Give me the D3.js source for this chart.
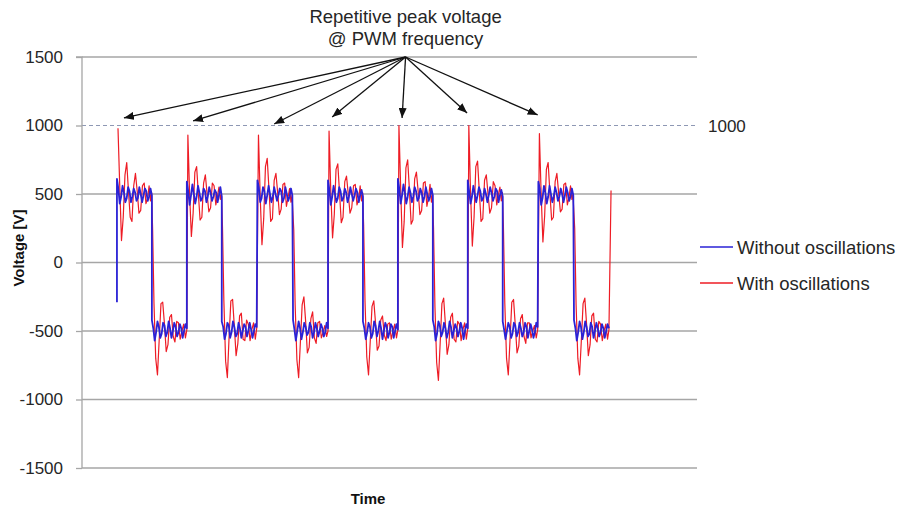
<!DOCTYPE html>
<html>
<head>
<meta charset="utf-8">
<script src="https://cdn.jsdelivr.net/npm/d3@7"></script>
<style>
  html, body { margin: 0; padding: 0; background: #fff; }
  svg { display: block; font-family: "Liberation Sans", Arial, sans-serif; }
</style>
</head>
<body>
<svg id="chart" width="901" height="506"></svg>
<script>
// ---------------- DATA ----------------
const yTicks = [-1500, -1000, -500, 0, 500, 1000, 1500];
const refLevel = 1000;
const seriesNames = ["Without oscillations", "With oscillations"];
const titleLines = ["Repetitive peak voltage", "@ PWM frequency"];

// switching edges (time units, period = 100)
const riseTimes = [50, 150, 251, 352, 452, 552, 653];
const fallTimes = [100, 200, 302, 402, 502, 602, 704];

// "With oscillations" (red): offsets after each edge and values per cycle
const redHighT = [1.5, 4, 6.5, 9, 11.5, 14, 16.5, 19, 21.5, 24, 26.5, 29, 31.5, 34, 36.5, 39, 41.5, 44, 46, 48, 49.5];
const redHigh = [
  [980, 560, 160, 330, 640, 730, 520, 330, 300, 560, 650, 520, 360, 380, 560, 580, 430, 470, 560, 450, 510],
  [930, 500, 190, 360, 660, 700, 500, 310, 330, 580, 640, 500, 370, 400, 580, 560, 420, 490, 550, 460, 500],
  [930, 480, 130, 320, 700, 760, 540, 300, 320, 600, 650, 510, 350, 390, 570, 580, 410, 480, 540, 440, 490],
  [960, 520, 180, 350, 680, 720, 510, 290, 330, 590, 630, 500, 360, 400, 560, 570, 420, 470, 560, 450, 510],
  [1000, 540, 110, 300, 690, 750, 530, 280, 310, 610, 660, 520, 350, 380, 580, 590, 410, 480, 570, 440, 500],
  [1000, 510, 120, 330, 700, 740, 520, 300, 320, 600, 640, 500, 360, 400, 590, 560, 420, 500, 550, 450, 510],
  [940, 500, 150, 340, 680, 730, 510, 310, 330, 590, 650, 510, 370, 390, 570, 580, 420, 480, 560, 460, 500]
];
const redLowT = [1, 3, 5.5, 8, 10.5, 13, 15.5, 18, 20.5, 23, 25.5, 28, 30.5, 33, 35.5, 38, 40.5, 43, 45.5, 48, 50];
const redLow = [
  [250, -300, -700, -820, -560, -300, -290, -450, -650, -600, -400, -380, -540, -580, -430, -440, -560, -500, -450, -550, -490],
  [260, -280, -720, -840, -540, -280, -270, -470, -680, -590, -390, -370, -560, -570, -420, -450, -570, -490, -440, -560, -480],
  [240, -310, -710, -840, -580, -310, -250, -430, -660, -620, -410, -360, -550, -590, -440, -430, -550, -510, -460, -540, -500],
  [270, -290, -690, -820, -570, -320, -280, -440, -640, -610, -420, -390, -530, -570, -450, -440, -560, -500, -450, -550, -490],
  [250, -320, -730, -860, -590, -300, -260, -450, -670, -600, -400, -370, -560, -580, -430, -450, -570, -490, -440, -560, -480],
  [260, -300, -700, -820, -560, -290, -270, -460, -660, -610, -410, -380, -540, -590, -440, -440, -550, -500, -460, -550, -490],
  [250, -310, -700, -820, -570, -300, -260, -450, -680, -600, -390, -370, -560, -580, -430, -450, -570, -500, -450, -560, -490]
];
const redEnd = [757, 525];

// "Without oscillations" (blue)
const blueStart = [50, -290];
const blueT = [0, 2, 4, 6, 8, 10, 12, 14, 16, 18, 20, 22, 24, 26, 28, 30, 32, 34, 36, 38, 40, 42, 44, 46, 48, 50];
const blueHigh = [
  [610, 540, 430, 480, 560, 510, 440, 470, 550, 520, 440, 480, 540, 510, 450, 470, 550, 500, 440, 490, 540, 520, 450, 480, 540, 490],
  [590, 520, 420, 490, 570, 500, 430, 480, 560, 510, 450, 470, 540, 520, 440, 480, 550, 510, 450, 480, 530, 510, 440, 490, 550, 480],
  [600, 550, 440, 470, 550, 520, 430, 490, 560, 500, 440, 480, 550, 500, 450, 490, 540, 520, 440, 470, 550, 500, 450, 480, 540, 490],
  [600, 530, 420, 480, 560, 500, 440, 470, 550, 520, 450, 470, 540, 510, 440, 480, 550, 500, 450, 490, 540, 510, 440, 490, 530, 480],
  [610, 540, 430, 490, 570, 510, 430, 480, 550, 510, 440, 480, 550, 520, 450, 470, 540, 510, 440, 480, 550, 500, 450, 480, 540, 490],
  [600, 520, 430, 480, 560, 500, 440, 490, 550, 520, 450, 470, 540, 500, 440, 490, 550, 510, 450, 480, 540, 520, 440, 490, 530, 480],
  [590, 540, 420, 470, 560, 510, 430, 480, 560, 500, 440, 480, 550, 510, 450, 480, 540, 500, 440, 490, 550, 510, 450, 480, 540, 490]
];
const blueLow = [
  [-420, -480, -570, -510, -430, -470, -550, -520, -440, -460, -540, -510, -430, -480, -550, -500, -440, -470, -540, -510, -450, -480, -550, -500, -450, -480],
  [-430, -470, -560, -520, -440, -460, -550, -510, -430, -470, -540, -520, -440, -480, -550, -500, -450, -470, -540, -500, -440, -490, -550, -500, -450, -470],
  [-420, -490, -570, -500, -430, -480, -560, -510, -440, -470, -530, -510, -440, -470, -550, -510, -440, -480, -540, -500, -450, -480, -540, -510, -440, -480],
  [-430, -480, -560, -510, -440, -470, -550, -520, -430, -460, -540, -500, -430, -480, -560, -500, -440, -470, -550, -510, -450, -470, -550, -500, -450, -490],
  [-420, -470, -570, -520, -430, -460, -540, -510, -440, -480, -550, -510, -430, -470, -550, -500, -450, -480, -540, -500, -440, -480, -560, -500, -450, -480],
  [-430, -490, -560, -500, -440, -470, -550, -520, -440, -460, -540, -510, -440, -480, -540, -510, -440, -470, -550, -500, -450, -490, -550, -510, -440, -470],
  [-420, -480, -570, -510, -430, -470, -560, -510, -430, -470, -540, -520, -440, -470, -550, -500, -440, -480, -540, -510, -450, -480, -550, -500, -450, -480]
];

// annotation arrows (data coordinates)
const arrowOrigin = [463, 1500];
const arrowTipT = [60, 159, 275, 358, 458, 551, 652];
const arrowTipV = [1055, 1033, 1011, 1062, 1055, 1091, 1077];

// ---------------- BUILD SERIES ----------------
const red = [];
const blue = [blueStart];
for (let i = 0; i < riseTimes.length; i++) {
  redHighT.forEach((o, j) => red.push([riseTimes[i] + o, redHigh[i][j]]));
  redLowT.forEach((o, j) => red.push([fallTimes[i] + o, redLow[i][j]]));
  blueT.forEach((o, j) => blue.push([riseTimes[i] + o, blueHigh[i][j]]));
  blueT.forEach((o, j) => blue.push([fallTimes[i] + o, blueLow[i][j]]));
}
red.push(redEnd);

// ---------------- LAYOUT ----------------
const svg = d3.select("#chart");
const plot = { left: 82, right: 697, top: 57, bottom: 468 };
const x = d3.scaleLinear().domain([0, 880]).range([plot.left, plot.right]);
const y = d3.scaleLinear().domain([-1500, 1500]).range([plot.bottom, plot.top]);

const gridColor = "#a6a6a6";
const textColor = "#262626";

// gridlines
svg.append("g").selectAll("line")
  .data(yTicks.filter(v => v !== refLevel && v !== -1500))
  .join("line")
  .attr("x1", plot.left).attr("x2", plot.right)
  .attr("y1", d => y(d)).attr("y2", d => y(d))
  .attr("stroke", gridColor).attr("stroke-width", 1.3);

// reference dashed line at 1000
svg.append("line")
  .attr("x1", plot.left).attr("x2", plot.right)
  .attr("y1", y(refLevel)).attr("y2", y(refLevel))
  .attr("stroke", "#8e98b4").attr("stroke-width", 1.2)
  .attr("stroke-dasharray", "4,3");
svg.append("text")
  .attr("x", 708).attr("y", y(refLevel) + 6)
  .attr("font-size", 17).attr("fill", textColor)
  .text(refLevel);

// y axis
const yAxis = d3.axisLeft(y).tickValues(yTicks).tickSize(6).tickPadding(13).tickFormat(d => String(d));
const ga = svg.append("g").attr("transform", `translate(${plot.left},0)`).call(yAxis);
ga.select(".domain").attr("stroke", gridColor).attr("stroke-width", 1.3).attr("d", `M-6,${plot.top}H0V${plot.bottom}H${plot.right - plot.left}`);
ga.selectAll(".tick line").attr("stroke", gridColor).attr("stroke-width", 1.3);
ga.selectAll(".tick text").attr("font-size", 17).attr("fill", textColor)
  .attr("font-family", "Liberation Sans, Arial, sans-serif");

// axis titles
svg.append("text")
  .attr("transform", `translate(24,248) rotate(-90)`)
  .attr("text-anchor", "middle").attr("font-size", 15).attr("font-weight", "bold")
  .attr("fill", "#111").text("Voltage [V]");
svg.append("text")
  .attr("x", 368).attr("y", 504)
  .attr("text-anchor", "middle").attr("font-size", 15).attr("font-weight", "bold")
  .attr("fill", "#111").text("Time");

// series
const line = d3.line().x(d => x(d[0])).y(d => y(d[1]));
svg.append("path").datum(red)
  .attr("d", line).attr("fill", "none")
  .attr("stroke", "#ee1c25").attr("stroke-width", 1.2).attr("stroke-linejoin", "round");
svg.append("path").datum(blue)
  .attr("d", line).attr("fill", "none")
  .attr("stroke", "#2a22d6").attr("stroke-width", 1.8).attr("stroke-linejoin", "round");

// annotation
const defs = svg.append("defs");
defs.append("marker")
  .attr("id", "arrowhead").attr("viewBox", "0 0 10 8")
  .attr("refX", 10).attr("refY", 4)
  .attr("markerWidth", 10).attr("markerHeight", 8)
  .attr("markerUnits", "userSpaceOnUse")
  .attr("orient", "auto")
  .append("path").attr("d", "M0,0L10,4L0,8Z").attr("fill", "#111");

svg.append("g").selectAll("line")
  .data(arrowTipT.map((t, i) => [t, arrowTipV[i]]))
  .join("line")
  .attr("x1", x(arrowOrigin[0])).attr("y1", y(arrowOrigin[1]))
  .attr("x2", d => x(d[0])).attr("y2", d => y(d[1]))
  .attr("stroke", "#111").attr("stroke-width", 1.3)
  .attr("marker-end", "url(#arrowhead)");

svg.append("g").selectAll("text")
  .data(titleLines)
  .join("text")
  .attr("x", x(arrowOrigin[0])).attr("y", (d, i) => 23 + i * 22)
  .attr("text-anchor", "middle").attr("font-size", 18.5).attr("fill", textColor)
  .text(d => d);

// legend
const legendColors = ["#2a22d6", "#ee1c25"];
const lg = svg.append("g").selectAll("g").data(seriesNames).join("g")
  .attr("transform", (d, i) => `translate(700,${247 + i * 36})`);
lg.append("line").attr("x1", 0).attr("x2", 33).attr("y1", 0).attr("y2", 0)
  .attr("stroke", (d, i) => legendColors[i]).attr("stroke-width", 1.5);
lg.append("text").attr("x", 37).attr("y", 6.5)
  .attr("font-size", 18.5).attr("fill", textColor).text(d => d);
</script>
</body>
</html>
